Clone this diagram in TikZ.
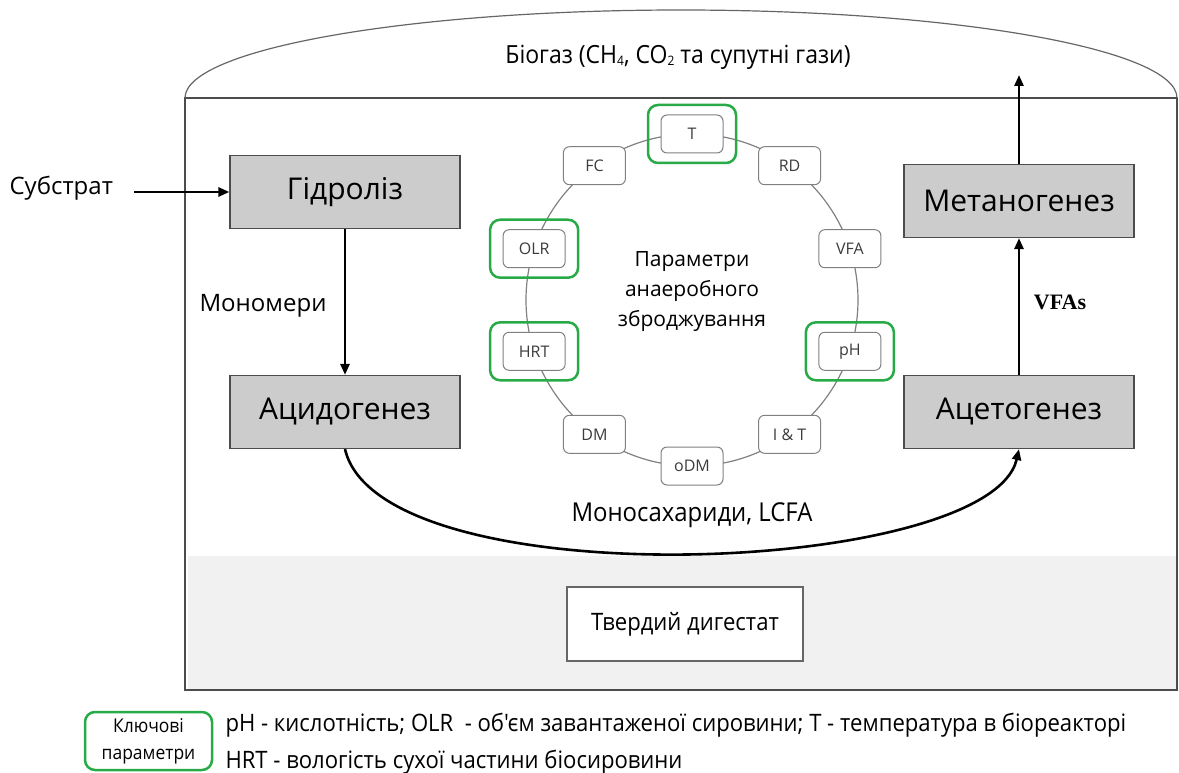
\documentclass[tikz,border=0pt]{standalone}
\usepackage{fontspec}
\setmainfont{Open Sans}
\newfontfamily\narrowfont{Open Sans}[FakeStretch=0.92]
\newfontfamily\vfafont{Liberation Serif}
\usetikzlibrary{arrows.meta}

\definecolor{boxgray}{RGB}{204,204,204}
\definecolor{keygreen}{RGB}{40,170,70}
\definecolor{ringgray}{RGB}{128,128,128}
\definecolor{labelgray}{RGB}{60,60,60}
\definecolor{bandgray}{RGB}{241,241,241}
\newcommand\fsz[2]{\fontsize{#1}{#2}\selectfont}

\tikzset{
  stagebox/.style={draw=black!70, line width=1.2pt, fill=boxgray,
    minimum width=230pt, minimum height=73pt, font=\fsz{30}{34}},
  param/.style={draw=ringgray, line width=1pt, rounded corners=6pt, fill=white,
    minimum width=62pt, minimum height=38pt, text=labelgray, font=\fsz{16}{18}},
  keyframe/.style={draw=keygreen, line width=2.5pt, rounded corners=10pt,
    minimum width=88pt, minimum height=58pt},
  flow/.style={line width=2.6pt, -{Triangle[length=11pt,width=9pt]}},
}

\begin{document}
\begin{tikzpicture}[x=1pt,y=-1pt]
\useasboundingbox (0,0) rectangle (1179,773);

% digester body, gas dome and digestate zone
\fill[bandgray] (188,556) rectangle (1177,689);
\draw[black!70, line width=1.2pt] (185,98) rectangle (1177,690);
\draw[black!60, line width=1.2pt] (185,98) arc[start angle=180, end angle=360, x radius=496, y radius=88];
\node[font=\narrowfont\fsz{25}{28}] (gaslbl) at (678,57) {Біогаз (CH{\fsz{13}{14}\raisebox{-2pt}{4}}, CO{\fsz{13}{14}\raisebox{-2pt}{2}} та супутні гази)};
\node[draw=black!60, line width=1.2pt, fill=white, minimum width=236pt, minimum height=74pt,
  font=\narrowfont\fsz{24}{26}] (dig) at (685,624) {Твердий дигестат};

% process stages
\node[stagebox] (hyd) at (345,192) {Гідроліз};
\node[stagebox] (acid) at (345,412) {Ацидогенез};
\node[stagebox] (met) at (1019,201) {Метаногенез};
\node[stagebox] (acet) at (1019,412) {Ацетогенез};

\node[font=\fsz{24}{26}, anchor=west] (sub) at (6,188) {Субстрат};
\node[font=\fsz{24}{26}] (mono) at (263,306) {Мономери};
\node[font=\vfafont\bfseries\fsz{22}{24}] (vfa) at (1060,302) {VFAs};
\coordinate (gas) at (1019,75);

\draw[flow] ([xshift=18pt]sub.east |- hyd.west) -- (hyd.west);
\draw[flow] (hyd.south) -- (acid.north);
\draw[flow] (acet.north) -- (met.south);
\draw[flow] (met.north) -- (gas);
\draw[flow] (acid.south) .. controls (380,600) and (990,576) .. (acet.south);
\node[font=\narrowfont\fsz{26}{28}] (monolbl) at (692,515) {Моносахариди, LCFA};

% ring of digestion parameters
\draw[ringgray, line width=1.2pt] (692,300) circle[radius=166];
\foreach \n/\l/\a in {T/T/90, RD/RD/54, VFA/VFA/18, pH/pH/-18, IT/I \& T/-54,
                     oDM/oDM/-90, DM/DM/-126, HRT/HRT/198, OLR/OLR/162, FC/FC/126}
  \node[param] (p\n) at ({692+166*cos(\a)},{300-166*sin(\a)}) {\l};
\foreach \n in {T,OLR,HRT,pH}
  \node[keyframe] (k\n) at (p\n) {};
\node[align=center, font=\fsz{21}{30}] (ringtitle) at (692,292) {Параметри\\анаеробного\\зброджування};

% legend
\node[draw=keygreen, line width=2.5pt, rounded corners=10pt, minimum width=127pt,
  minimum height=58pt, align=center, font=\narrowfont\fsz{19}{27}] (key) at (148.5,741) {Ключові\\параметри};
\node[anchor=west, font=\narrowfont\fsz{24}{26}] (leg1) at (222,725)
  {pH - кислотність; OLR~ - об'єм завантаженої сировини; T - температура в біореакторі};
\node[anchor=west, font=\narrowfont\fsz{24}{26}] (leg2) at (222,762)
  {HRT - вологість сухої частини біосировини};
\end{tikzpicture}
\end{document}
